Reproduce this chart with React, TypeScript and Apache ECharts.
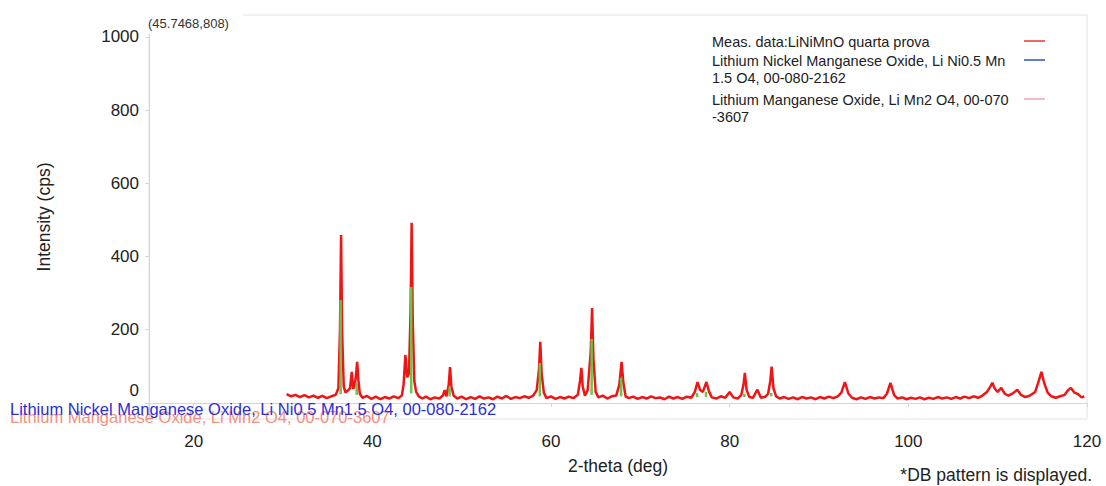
import React, { useEffect, useRef } from "react";
import * as echarts from "echarts";

const measData: [number, number][] = [
  [30.4, 24], [30.9, 18], [31.4, 22], [31.9, 16], [32.4, 21], [32.9, 15], [33.4, 20], [33.9, 14],
  [34.4, 19], [34.9, 13], [35.4, 18], [35.9, 22], [36.2, 40], [36.38, 200], [36.5, 459], [36.62, 190],
  [36.8, 45], [37.0, 28], [37.3, 35], [37.5, 40], [37.7, 85], [37.85, 38], [38.0, 45], [38.15, 70],
  [38.3, 112], [38.45, 60], [38.6, 25], [38.9, 14], [39.4, 19], [39.9, 11], [40.4, 17], [40.9, 10],
  [41.4, 16], [41.9, 12], [42.4, 18], [42.9, 13], [43.3, 20], [43.5, 50], [43.7, 131], [43.9, 70],
  [44.1, 80], [44.28, 250], [44.4, 492], [44.52, 230], [44.7, 60], [44.9, 30], [45.2, 18], [45.6, 12],
  [46.0, 17], [46.5, 10], [47.0, 15], [47.5, 12], [47.9, 20], [48.1, 35], [48.3, 18], [48.55, 50],
  [48.7, 98], [48.85, 45], [49.1, 20], [49.5, 12], [50.0, 17], [50.5, 10], [51.0, 16], [51.5, 11],
  [52.0, 18], [52.5, 12], [53.0, 15], [53.5, 10], [54.0, 17], [54.5, 12], [55.0, 19], [55.5, 11],
  [56.0, 16], [56.5, 13], [57.0, 18], [57.5, 14], [58.0, 20], [58.4, 35], [58.65, 90], [58.8, 167],
  [58.95, 80], [59.2, 28], [59.5, 13], [60.0, 18], [60.5, 11], [61.0, 16], [61.5, 12], [62.0, 17],
  [62.5, 13], [63.0, 22], [63.25, 60], [63.4, 96], [63.55, 45], [63.8, 20], [64.1, 35], [64.45, 140],
  [64.6, 259], [64.75, 120], [65.0, 30], [65.3, 15], [65.8, 20], [66.3, 12], [66.8, 18], [67.3, 20],
  [67.65, 50], [67.9, 112], [68.1, 55], [68.35, 18], [68.7, 13], [69.2, 17], [69.7, 11], [70.2, 16],
  [70.7, 12], [71.2, 18], [71.7, 13], [72.2, 15], [72.7, 10], [73.2, 17], [73.7, 12], [74.2, 16],
  [74.7, 11], [75.2, 17], [75.7, 14], [76.1, 30], [76.4, 57], [76.7, 35], [77.0, 30], [77.4, 57],
  [77.7, 30], [78.0, 15], [78.5, 12], [79.0, 18], [79.5, 14], [80.0, 30], [80.4, 15], [80.9, 12],
  [81.3, 22], [81.55, 50], [81.7, 82], [81.9, 35], [82.2, 16], [82.6, 14], [83.1, 36], [83.5, 14],
  [84.0, 17], [84.3, 25], [84.55, 60], [84.7, 99], [84.9, 40], [85.2, 18], [85.6, 12], [86.1, 16],
  [86.6, 11], [87.1, 15], [87.6, 10], [88.1, 16], [88.6, 12], [89.1, 15], [89.6, 10], [90.1, 16],
  [90.6, 12], [91.1, 17], [91.6, 13], [92.1, 18], [92.5, 28], [92.9, 57], [93.3, 25], [93.7, 14],
  [94.2, 10], [94.7, 15], [95.2, 11], [95.7, 16], [96.2, 12], [96.7, 15], [97.2, 13], [97.6, 25],
  [98.0, 55], [98.4, 22], [98.8, 12], [99.3, 15], [99.8, 10], [100.3, 14], [100.8, 11], [101.3, 15],
  [101.8, 10], [102.3, 14], [102.8, 11], [103.3, 16], [103.8, 12], [104.3, 15], [104.8, 11], [105.3, 16],
  [105.8, 12], [106.3, 17], [106.8, 13], [107.3, 18], [107.8, 14], [108.3, 20], [108.8, 30], [109.2, 45],
  [109.4, 55], [109.7, 38], [110.0, 30], [110.4, 41], [110.8, 25], [111.2, 20], [111.7, 26], [112.2, 36],
  [112.6, 22], [113.1, 16], [113.6, 20], [114.2, 30], [114.6, 60], [114.9, 85], [115.2, 55], [115.6, 28],
  [116.0, 18], [116.5, 14], [117.0, 18], [117.5, 22], [117.9, 35], [118.2, 41], [118.6, 28], [119.0, 24],
  [119.4, 15], [119.7, 18],
];

// Green sticks visible inside the peaks: 2-theta, foot level (cps) and top level (cps)
const stickTheta = [36.45, 38.25, 44.35, 48.65, 58.75, 64.55, 67.85, 76.35, 77.35, 81.65, 84.65];
const stickFoot = [24, 22, 26, 18, 18, 22, 18, 16, 16, 16, 18];
const stickTop = [281, 55, 317, 44, 109, 175, 68, 27, 30, 25, 27];

const legendNames = [
  "Meas. data:LiNiMnO quarta prova",
  "Lithium Nickel Manganese Oxide, Li Ni0.5 Mn\n1.5 O4, 00-080-2162",
  "Lithium Manganese Oxide, Li Mn2 O4, 00-070\n-3607",
];
const legendColors = ["#e53935", "#2f4fc4", "#f3a3b1"];

const dbLabelBlue = "Lithium Nickel Manganese Oxide, Li Ni0.5 Mn1.5 O4, 00-080-2162";
const dbLabelPink = "Lithium Manganese Oxide, Li Mn2 O4, 00-070-3607";
const cursorLabel = "(45.7468,808)";
const footNote = "*DB pattern is displayed.";

const yTicks = [0, 200, 400, 600, 800, 1000];
const xTicks = [20, 40, 60, 80, 100, 120];

const FONT = "'Liberation Sans', Arial, Helvetica, sans-serif";

export default function App() {
  const ref = useRef<HTMLDivElement>(null);
  useEffect(() => {
    if (!ref.current) return;
    const chart = echarts.init(ref.current, null, { renderer: "svg" });
    const legendY = [41, 60, 99];
    const legendGraphics: any[] = [];
    legendNames.forEach((n, i) => {
      legendGraphics.push({
        type: "text",
        left: 712,
        top: legendY[i] - 8,
        style: { text: n, font: `14.5px ${FONT}`, fill: "#222", lineHeight: 17 },
        z: 10,
      });
      legendGraphics.push({
        type: "line",
        shape: { x1: 1024, y1: legendY[i], x2: 1045, y2: legendY[i] },
        style: { stroke: legendColors[i], lineWidth: 1.5 },
        z: 10,
      });
    });
    const stickData = stickTheta.map((t, i) => [t, stickFoot[i], stickTop[i]]);
    chart.setOption({
      animation: false,
      backgroundColor: "#ffffff",
      textStyle: { fontFamily: FONT },
      grid: {
        left: 149,
        right: 19,
        top: 15,
        bottom: 67,
        show: true,
        borderColor: "#e2e2e2",
        borderWidth: 1,
      },
      xAxis: {
        type: "value",
        min: 15,
        max: 120,
        name: "2-theta (deg)",
        nameLocation: "middle",
        nameGap: 38,
        nameTextStyle: { fontSize: 17.5, color: "#222", fontFamily: FONT },
        splitLine: { show: false },
        axisLine: { show: true, lineStyle: { color: "#d6d6d6" } },
        axisTick: { show: true, length: 4, lineStyle: { color: "#d6d6d6" } },
        axisLabel: {
          fontSize: 17,
          color: "#222",
          margin: 14,
          fontFamily: FONT,
          formatter: (v: number) => (xTicks.includes(v) ? String(v) : ""),
        },
      },
      yAxis: {
        type: "value",
        min: -44,
        max: 1060,
        name: "Intensity (cps)",
        nameLocation: "middle",
        nameGap: 96,
        nameTextStyle: { fontSize: 17.5, color: "#222", fontFamily: FONT },
        splitLine: { show: false },
        axisLine: { show: true, lineStyle: { color: "#d6d6d6" } },
        axisTick: { show: true, length: 4, lineStyle: { color: "#d6d6d6" } },
        axisLabel: {
          fontSize: 17,
          color: "#222",
          margin: 10,
          fontFamily: FONT,
          formatter: (v: number) =>
            v === 0 ? "{z|0}" : yTicks.includes(v) ? String(v) : "",
          rich: {
            z: { fontSize: 17, color: "#222", fontFamily: FONT, padding: [0, 0, 24, 0] },
          },
        },
      },
      series: [
        {
          name: legendNames[0],
          type: "line",
          data: measData,
          showSymbol: false,
          symbol: "none",
          lineStyle: { color: "#f01414", width: 2.5 },
          z: 2,
        },
        {
          name: "DB sticks",
          type: "custom",
          data: stickData,
          encode: { x: 0, y: [1, 2] },
          z: 3,
          renderItem: (_params: any, api: any) => {
            const p0 = api.coord([api.value(0), api.value(1)]);
            const p1 = api.coord([api.value(0), api.value(2)]);
            return {
              type: "line",
              shape: { x1: p0[0], y1: p0[1], x2: p1[0], y2: p1[1] },
              style: { stroke: "#6cc24a", lineWidth: 2.5 },
            };
          },
        },
      ],
      graphic: [
        {
          type: "rect",
          shape: { x: 143, y: 10, width: 100, height: 24 },
          style: { fill: "#ffffff" },
          z: 5,
        },
        {
          type: "text",
          left: 148,
          top: 17,
          style: { text: cursorLabel, font: `13px ${FONT}`, fill: "#333" },
          z: 6,
        },
        ...legendGraphics,
        {
          type: "text",
          left: 10,
          top: 408,
          style: { text: dbLabelPink, font: `16.5px ${FONT}`, fill: "#f4907e" },
          z: 8,
        },
        {
          type: "text",
          left: 10,
          top: 400,
          style: { text: dbLabelBlue, font: `16.5px ${FONT}`, fill: "#2d2dd6" },
          z: 9,
        },
        {
          type: "text",
          right: 14,
          top: 466,
          style: { text: footNote, font: `17.5px ${FONT}`, fill: "#222" },
          z: 10,
        },
      ],
    });
    return () => chart.dispose();
  }, []);
  return (
    <div
      ref={ref}
      style={{ position: "fixed", left: 0, top: 0, width: 1106, height: 486, background: "#fff" }}
    />
  );
}
